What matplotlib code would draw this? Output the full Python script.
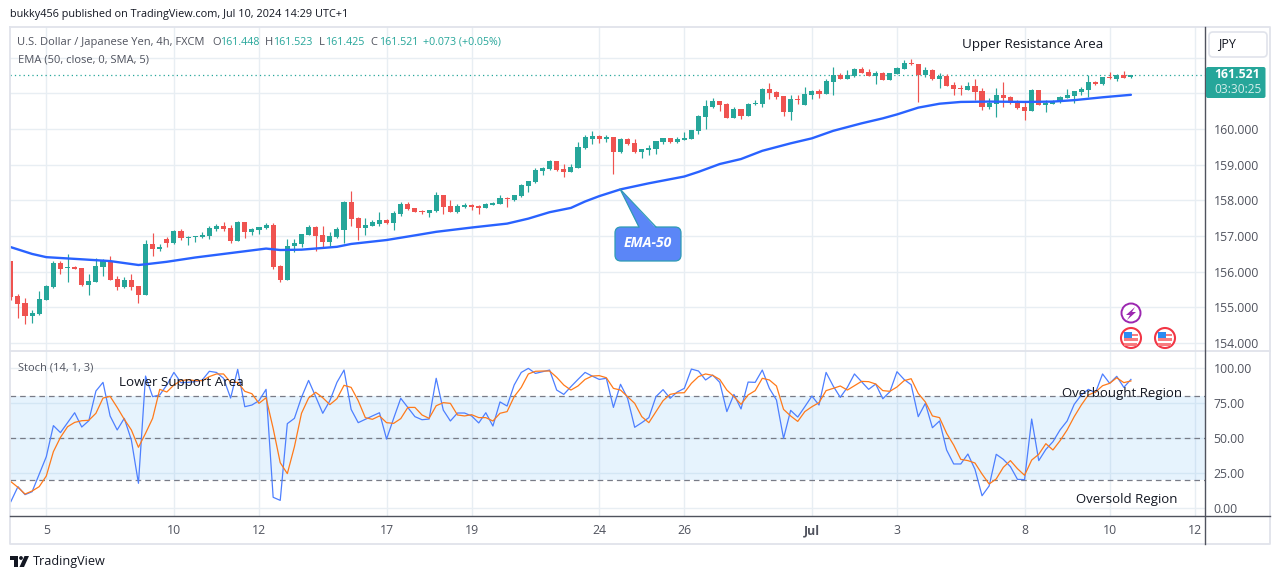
import matplotlib
matplotlib.use("Agg")
import matplotlib.pyplot as plt
from matplotlib.patches import Circle, FancyBboxPatch, Polygon, Rectangle

plt.rcParams['font.family'] = ['Open Sans', 'DejaVu Sans']

opens = [156.31,155.32,155.12,154.76,154.81,155.21,155.57,156.24,156.10,156.13,
156.10,155.63,155.71,156.13,156.30,155.79,155.57,155.77,155.60,155.35,
156.78,156.64,156.92,156.80,157.14,156.95,156.97,156.97,157.00,157.20,
157.28,157.23,156.86,157.39,157.11,157.17,157.23,157.31,156.16,155.77,
156.72,156.78,157.03,157.25,157.03,156.83,156.97,157.17,157.95,157.50,
157.22,157.28,157.34,157.45,157.36,157.62,157.90,157.79,157.70,157.65,
157.70,158.15,157.84,157.67,157.81,157.87,157.84,157.79,157.87,157.90,
158.07,158.01,158.12,158.40,158.51,158.82,158.88,159.10,158.88,158.79,
158.91,159.47,159.72,159.80,159.72,159.78,159.36,159.72,159.61,159.36,
159.41,159.44,159.64,159.75,159.64,159.69,159.72,159.94,160.34,160.62,
160.78,160.70,160.31,160.56,160.36,160.70,160.70,161.12,161.04,160.93,
160.48,160.84,160.67,160.95,161.07,160.98,161.32,161.51,161.40,161.49,
161.68,161.60,161.49,161.57,161.37,161.54,161.68,161.85,161.82,161.51,
161.65,161.40,161.49,161.23,161.16,161.09,161.21,161.07,160.62,160.70,
160.95,160.90,160.76,160.62,160.51,161.09,160.67,160.70,160.76,160.87,
160.93,161.04,161.09,161.32,161.26,161.46,161.40,161.51,161.448]

highs = [156.31,155.37,155.26,154.93,155.46,155.63,156.30,156.30,156.50,156.16,
156.10,155.93,156.38,156.36,156.44,155.88,155.85,155.93,155.60,156.89,
157.09,156.78,156.97,157.17,157.20,157.00,157.00,157.11,157.28,157.34,
157.39,157.31,157.42,157.39,157.23,157.25,157.37,157.37,156.19,156.92,
156.92,157.06,157.31,157.28,157.28,157.11,157.25,157.98,158.26,157.53,
157.50,157.45,157.67,157.48,157.70,157.95,157.95,157.79,157.73,157.73,
158.23,158.15,158.01,157.90,157.93,157.90,157.87,157.93,157.95,158.15,
158.09,158.15,158.46,158.54,158.91,158.93,159.13,159.10,159.02,159.02,
159.64,159.83,159.94,159.82,159.83,159.79,159.75,159.75,159.72,159.44,
159.55,159.66,159.75,159.75,159.78,159.92,159.97,160.39,160.81,160.87,
160.78,160.73,160.62,160.56,160.73,160.81,161.15,161.29,161.07,160.93,
160.95,160.95,161.18,161.09,161.12,161.40,161.74,161.57,161.65,161.71,
161.74,161.68,161.63,161.60,161.57,161.74,161.93,161.96,161.82,161.74,
161.68,161.57,161.54,161.32,161.23,161.32,161.40,161.15,160.87,161.15,
161.32,160.93,160.81,160.76,161.12,161.09,160.81,160.81,160.93,161.12,
161.07,161.18,161.51,161.35,161.46,161.60,161.54,161.63,161.523]

lows = [155.21,154.70,154.53,154.56,154.79,155.21,155.54,155.93,155.71,156.08,
155.60,155.35,155.71,155.88,155.77,155.49,155.54,155.49,155.12,155.35,
156.44,156.58,156.69,156.78,156.89,156.75,156.83,156.94,156.92,157.14,
157.14,156.80,156.86,156.94,157.03,157.06,157.20,156.08,155.71,155.77,
156.55,156.69,157.03,156.58,156.69,156.72,156.94,156.80,157.28,156.89,
157.03,157.28,157.28,157.34,157.17,157.56,157.73,157.67,157.62,157.53,
157.67,157.62,157.67,157.65,157.79,157.73,157.62,157.79,157.87,157.90,
157.81,157.98,158.09,158.23,158.49,158.71,158.85,158.82,158.65,158.79,
158.91,159.44,159.58,159.61,159.64,158.74,159.33,159.55,159.33,159.19,
159.27,159.30,159.58,159.61,159.61,159.69,159.72,159.86,160.00,160.59,
160.50,160.31,160.31,160.28,160.36,160.67,160.62,160.84,160.84,160.36,
160.25,160.70,160.67,160.84,160.87,160.98,160.95,161.40,161.40,161.46,
161.57,161.49,161.26,161.37,161.37,161.54,161.68,161.79,160.76,161.46,
161.37,161.15,161.21,160.95,160.95,161.09,160.81,160.53,160.56,160.34,
160.62,160.70,160.56,160.25,160.51,160.67,160.48,160.70,160.73,160.87,
160.73,160.95,160.90,161.23,161.23,161.40,161.35,161.43,161.425]

closes = [155.28,155.09,154.76,154.84,155.23,155.60,156.24,156.08,156.13,156.08,
155.63,155.74,156.16,156.30,155.77,155.57,155.77,155.57,155.35,156.78,
156.64,156.69,156.80,157.14,156.94,156.98,157.00,157.03,157.23,157.28,
157.20,156.86,157.39,157.11,157.20,157.25,157.31,156.13,155.77,156.72,
156.80,157.06,157.25,157.00,156.83,157.00,157.20,157.95,157.48,157.22,
157.31,157.39,157.45,157.36,157.65,157.90,157.76,157.67,157.67,157.73,
158.15,157.81,157.67,157.84,157.87,157.81,157.79,157.90,157.93,158.07,
158.05,158.15,158.43,158.54,158.85,158.91,159.10,158.85,158.79,158.93,
159.50,159.78,159.80,159.72,159.78,159.36,159.72,159.58,159.36,159.44,
159.47,159.66,159.75,159.64,159.72,159.75,159.97,160.36,160.64,160.78,
160.67,160.31,160.56,160.36,160.70,160.73,161.12,161.01,160.90,160.48,
160.84,160.82,160.98,161.07,160.98,161.35,161.51,161.40,161.51,161.68,
161.57,161.49,161.57,161.37,161.57,161.71,161.85,161.82,161.51,161.65,
161.40,161.49,161.21,161.12,161.13,161.21,161.04,160.62,160.73,160.95,
160.87,160.73,160.59,160.51,161.09,160.67,160.73,160.79,160.90,160.95,
161.07,161.12,161.32,161.26,161.46,161.44,161.51,161.43,161.521]

ema_bars = [0,3,5,10,14,18,19,22,26,30,34,36,38,41,46,48,53,57,60,65,70,73,76,79,81,
            83,86,90,95,97,100,103,106,110,113,116,120,123,125,128,131,134,138,143,147,150,154,158]
ema_vals = [156.69,156.50,156.41,156.35,156.30,156.19,156.21,156.28,156.40,156.50,156.60,156.65,156.61,
            156.62,156.70,156.78,156.89,157.02,157.12,157.24,157.35,157.49,157.67,157.79,157.97,
            158.12,158.31,158.48,158.67,158.80,159.02,159.16,159.39,159.60,159.74,159.95,160.16,
            160.30,160.41,160.60,160.71,160.76,160.77,160.76,160.77,160.81,160.89,160.96]

stoch_k = [4.2,14.9,9.2,11.3,23.9,36.3,58.5,53.5,60.6,67.7,
57.5,62,83.2,89.4,65.4,55.4,63.7,48.2,17.3,93.9,
79.2,80.4,87.5,96.5,89.2,89.4,89.9,91.1,97.3,96.5,
92.3,78.2,98.7,72,73.2,76.3,84.4,7.3,5.1,59.9,
63.7,78.7,90.8,79.2,67.3,76.3,89.4,98.2,70.1,60.6,
63,65.4,67.7,48.9,63.7,78,71.5,64.9,62.7,63.2,
92.3,69.6,61.8,67.5,67.5,65.4,60.4,67.7,58.2,75.4,
72.5,87.5,96.5,99.4,95.8,97,98.2,83.9,80.8,86.3,
91.5,96.5,93.9,91.5,92.3,71.5,88,78,57.3,60.6,
64.2,79.2,84.2,78,82.5,85.1,98.9,97.5,91.1,94.6,
89.4,68.5,80.8,70.4,89.6,89.4,98.2,85.1,76.8,49.4,
69.4,64.6,72,79.6,73.2,96.5,86.8,78.7,85.8,95.4,
89.9,84.4,88.2,77.7,82.7,97,91.5,87.7,64.9,74.4,
57,61.8,41.1,31.1,31.1,38.2,27.3,8.4,15.4,38,
34.4,29.2,20.1,19.9,63.2,33.5,41.5,47,55.4,61.8,
73.7,80.4,84.4,82,95.4,88.7,93.7,85.8,91.5]

stoch_d = [18.5,14.4,9.6,11.8,14.9,22.5,39.9,50.1,57.7,60.8,
62,62.3,67.3,78.2,79.4,71.5,63,55.4,43,53,
63.7,84.4,82.5,87.5,90.6,91.3,90.6,90.6,93.5,95.4,
95.4,89.4,89.4,83,81.3,74.4,78.4,56.5,32,24.2,
43.4,67.3,78.2,82.3,78.4,73.5,77.7,87.3,85.8,76.3,
64.2,63,65.4,60.6,60.1,63.5,71.5,71.5,66.1,63.7,
72.7,74.9,74.4,66.1,65.4,66.3,64.2,64.2,61.8,67.3,
68.5,79.2,85.8,95.4,97.3,97.5,97.5,93,87.5,83.9,
86.8,91.5,93.9,94.2,92.7,85.1,83.9,79.2,74.4,64.9,
60.6,68.5,76.3,80.8,81.8,82,88.7,93.5,95.4,94.4,
91.5,83.9,79.2,73.7,80.4,83.5,92.3,91.1,86.8,70.1,
65.4,61.5,68.5,72,74.9,83.5,85.1,86.8,83.9,87,
90.1,89.9,88.2,83.5,83,86.1,90.6,92,81.5,75.4,
65.4,64.2,53,44.6,34.4,33.5,31.8,23.9,16.8,20.4,
28.7,33.5,27.7,23,33.9,38,45.6,41.1,47.7,55.4,
64.9,73.2,80.4,82.5,87,88.7,92.7,89.2,90.4]

tick_bars = [5,23,35,53,65,83,95,113,125,143,155,167]
tick_labels = ['5','10','12','17','19','24','26','Jul','3','8','10','12']
price_ticks = [154,155,156,157,158,159,160]
price_grid = [154,155,156,157,158,159,160,161,162]
stoch_ticks = [0,25,50,75,100]
last_price = 161.521

GREEN, RED = '#26a69a', '#ef5350'
GRID = '#e8eef3'
TXT = '#131722'
GREY = '#50535e'
W, H = 1281, 579

fig = plt.figure(figsize=(W/100, H/100), dpi=100, facecolor='white')

def rect(l, t, r, b):
    return [l/W, 1-b/H, (r-l)/W, (b-t)/H]

ax = fig.add_axes(rect(10, 27, 1205, 351))
axs = fig.add_axes(rect(10, 351, 1205, 516))
XLIM = (-0.12, 168.45)

bars = list(range(len(opens)))
colors = [GREEN if c >= o else RED for o, c in zip(opens, closes)]
for a in (ax, axs):
    a.set_xlim(*XLIM)
    for s in a.spines.values():
        s.set_visible(False)
    a.set_axisbelow(True)
    a.tick_params(length=0, colors=GREY, labelsize=8.8)
    a.yaxis.tick_right()
    a.tick_params(axis='y', pad=6.3)
    for x in tick_bars:
        a.axvline(x, color=GRID, lw=1.0, zorder=0)

ax.set_ylim(153.78, 162.86)
for p in price_grid:
    ax.axhline(p, color=GRID, lw=1.0, zorder=0)
ax.set_yticks(price_ticks, [f'{p:.3f}' for p in price_ticks])
ax.set_xticks([])

ax.vlines(bars, lows, highs, colors=colors, lw=0.85, zorder=2)
ax.bar(bars, [abs(c-o) for o, c in zip(opens, closes)],
       bottom=[min(o, c) for o, c in zip(opens, closes)],
       width=0.72, color=colors, lw=0, zorder=3)
ax.plot(ema_bars, ema_vals, color='#2962ff', lw=1.7, zorder=4, solid_capstyle='round')
ax.axhline(last_price, color=GREEN, lw=0.9, ls=(0, (1, 2.5)), zorder=1)

axs.set_ylim(-6.07, 111.8)
axs.axhspan(20, 80, color='#2196f3', alpha=0.11, lw=0, zorder=0)
for v in stoch_ticks:
    axs.axhline(v, color=GRID if v in (0, 100) else '#d3e6f4', lw=1.0, zorder=0.5)
for v in (80, 50, 20):
    axs.axhline(v, color='#787b86', lw=0.9, ls=(0, (4.5, 3.2)), zorder=1)
axs.set_yticks(stoch_ticks, [f'{v:.2f}' for v in stoch_ticks])
axs.set_xticks(tick_bars, tick_labels)
axs.tick_params(axis='x', pad=6)
axs.plot(bars, stoch_k, color='#4d7fff', lw=0.9, zorder=3)
axs.plot(bars, stoch_d, color='#ff7a1a', lw=0.9, zorder=4)
for lab in axs.get_xticklabels():
    if lab.get_text() == 'Jul':
        lab.set_fontweight('bold')

# page-level overlay, in pixels of the picture
ov = fig.add_axes([0, 0, 1, 1], zorder=10)
ov.set_xlim(0, W); ov.set_ylim(H, 0); ov.axis('off'); ov.patch.set_alpha(0)

EDGE = '#e0e3eb'
ov.plot([10, 1270, 1270, 10, 10], [27, 27, 544, 544, 27], color=EDGE, lw=1.3)
ov.plot([10, 1270], [351, 351], color=EDGE, lw=1.3)
ov.plot([1205, 1205], [27, 544], color='#50535e', lw=1.0)
ov.plot([10, 1270], [516, 516], color='#50535e', lw=1.0)

def t(x, y, s, size=8.0, color=GREY, **kw):
    kw.setdefault('va', 'center'); kw.setdefault('ha', 'left')
    ov.text(x, y + 1, s, fontsize=size, color=color, **kw)

t(10, 13, 'bukky456 published on TradingView.com, Jul 10, 2024 14:29 UTC+1', color=TXT, size=7.85)
t(17, 41.5, 'U.S. Dollar / Japanese Yen, 4h, FXCM')
t(212, 41.5, 'O'); t(220, 41.5, '161.448', color=GREEN, size=7.7)
t(265, 41.5, 'H'); t(273, 41.5, '161.523', color=GREEN, size=7.7)
t(319, 41.5, 'L'); t(325, 41.5, '161.425', color=GREEN, size=7.7)
t(370, 41.5, 'C'); t(379, 41.5, '161.521', color=GREEN, size=7.7)
t(423, 41.5, '+0.073 (+0.05%)', color=GREEN, size=7.7)
t(18, 58.5, 'EMA (50, close, 0, SMA, 5)')
t(18, 366.5, 'Stoch (14, 1, 3)')

t(962, 43.5, 'Upper Resistance Area', color=TXT, size=9.6)
t(119, 381.5, 'Lower Support Area', color=TXT, size=9.6)
t(1062, 393, 'Overbought Region', color=TXT, size=9.5)
t(1076, 499, 'Oversold Region', color=TXT, size=9.5)

# price tag and currency button
ov.add_patch(FancyBboxPatch((1206, 67), 59.5, 31, boxstyle='round,pad=0,rounding_size=2',
                            fc=GREEN, ec='none', zorder=5))
t(1214, 74, '161.521', color='white', size=8.8, fontweight='bold', zorder=6)
t(1214, 88.5, '03:30:25', color='#d4eeeb', size=8.6, zorder=6)
ov.add_patch(FancyBboxPatch((1209, 32), 58, 25, boxstyle='round,pad=0,rounding_size=4',
                            fc='white', ec=EDGE, lw=1.2, zorder=5))
t(1218, 43, 'JPY', color=TXT, size=9, zorder=6)

# EMA-50 callout
CALL, CALL_E = '#5b86f7', '#2f9bb5'
ov.add_patch(FancyBboxPatch((615, 227), 66, 34, boxstyle='round,pad=0,rounding_size=6',
                            fc=CALL, ec=CALL_E, lw=0.9, zorder=5))
ov.add_patch(Polygon([(620, 189), (639, 228), (656, 228)], closed=True, fc=CALL, ec='none', zorder=6))
ov.plot([639, 620, 656], [227, 189, 227], color=CALL_E, lw=0.9, zorder=6)
t(648, 242, 'EMA-50', color='white', size=10, ha='center', style='italic', fontweight='bold', zorder=7)

# event markers
ov.add_patch(Circle((1131, 313), 9.5, fc='white', ec='#9c27b0', lw=1.4, zorder=5))
ov.add_patch(Polygon([(1135, 307), (1126, 315), (1130, 315), (1127, 320), (1136, 312), (1132, 312)],
                     closed=True, fc='#9c27b0', ec='none', zorder=6))
for cx in (1131, 1165):
    ov.add_patch(Circle((cx, 338), 10, fc='white', ec='#f23645', lw=1.5, zorder=5))
    ov.add_patch(Rectangle((cx-7, 338), 14, 2.5, fc='#f77c80', ec='none', zorder=6))
    ov.add_patch(Rectangle((cx-7, 343), 13, 2.5, fc='#f77c80', ec='none', zorder=6))
    ov.add_patch(Rectangle((cx-7, 332), 8, 6, fc='#2a8bf2', ec='none', zorder=6))
    ov.add_patch(Rectangle((cx+1, 334), 6, 2, fc='#f77c80', ec='none', zorder=6))

# footer logo
ov.add_patch(Polygon([(10, 556), (18, 556), (18, 567), (14, 567), (14, 560), (10, 560)], closed=True, fc=TXT, ec='none'))
ov.add_patch(Circle((21, 558), 1.9, fc=TXT, ec='none'))
ov.add_patch(Polygon([(24.5, 556), (29, 556), (24, 567), (19.5, 567)], closed=True, fc=TXT, ec='none'))
t(33, 560.5, 'TradingView', color=TXT, size=9.1)

fig.savefig('out.png', dpi=100, facecolor='white')
